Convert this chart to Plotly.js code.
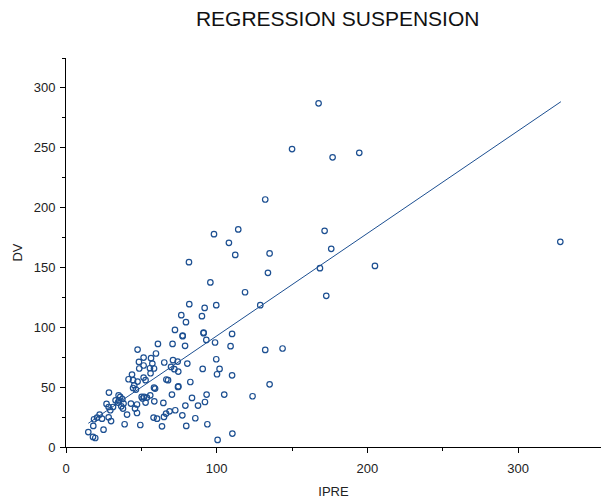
<!DOCTYPE html>
<html>
<head>
<meta charset="utf-8">
<script src="https://cdn.plot.ly/plotly-3.0.1.min.js"></script>
<style>
  html, body { margin: 0; padding: 0; background: #ffffff; }
  #chart { width: 603px; height: 499px; }
</style>
</head>
<body>
<div id="chart"></div>
<script>
// Observed concentrations (DV) against individual predictions (IPRE)
const ipre = [
  167.6, 150.0, 176.9, 194.6, 132.2, 98.2, 114.3, 108.1, 112.3, 135.1,
  171.6, 176.0, 168.5, 134.0, 81.6, 95.8, 118.8, 205.0, 172.7, 328.0,
  128.9, 81.8, 99.7, 92.0, 90.2, 79.6, 76.5, 91.3, 91.3, 77.4,
  77.4, 110.2, 93.1, 98.9, 79.0, 109.2, 132.2, 143.7, 80.5, 99.7,
  90.7, 101.9, 100.2, 110.2, 82.5, 135.1, 83.6, 93.3, 105.0, 123.8,
  92.2, 93.8, 110.4, 100.6,
  72.3, 70.7, 61.0, 47.5, 59.7, 51.5, 56.4, 48.4, 51.5, 57.3,
  48.6, 55.7, 58.4, 65.2, 71.0, 74.1, 69.7, 71.9, 74.5, 43.8,
  41.5, 44.5, 47.5, 51.5, 56.1, 52.8, 45.3, 44.5, 46.4, 59.1,
  58.4, 66.6, 67.7, 74.3, 74.6, 28.5, 34.9, 36.0, 37.4, 35.2,
  32.9, 34.5, 38.2, 36.7, 31.2, 26.9, 28.3, 29.4, 37.8, 43.1,
  47.1, 45.8, 50.2, 51.8, 50.8, 53.7, 55.9, 52.8, 58.6, 64.6,
  70.3, 87.6, 79.2, 72.5, 68.7, 66.4, 60.4, 58.1, 65.0, 63.7,
  77.2, 79.8, 85.8, 22.3, 20.6, 18.6, 23.9, 29.9, 28.3, 40.5,
  47.1, 38.9, 49.3, 24.9, 18.1, 14.8, 17.9, 19.4
];
const dv = [
  287.1, 248.9, 242.0, 245.8, 206.8, 177.8, 181.8, 170.6, 160.5, 161.7,
  180.6, 165.6, 149.4, 145.5, 154.4, 137.5, 129.3, 151.3, 126.3, 171.4,
  118.5, 119.3, 118.5, 116.2, 109.3, 104.3, 110.1, 95.1, 95.6, 92.6,
  93.1, 94.5, 89.5, 87.3, 84.5, 84.2, 81.1, 82.3, 69.7, 73.3,
  65.2, 65.2, 60.8, 59.9, 54.3, 52.4, 41.0, 43.8, 43.8, 42.4,
  37.6, 19.0, 11.2, 5.9,
  97.8, 86.1, 86.1, 81.4, 78.1, 74.7, 74.2, 71.1, 68.1, 69.7,
  65.6, 65.8, 65.6, 70.6, 72.5, 71.4, 66.9, 65.0, 63.0, 60.5,
  56.6, 55.8, 54.7, 58.0, 61.6, 55.8, 51.6, 49.3, 48.0, 48.8,
  49.6, 56.4, 55.8, 50.2, 50.6, 45.5, 43.2, 41.8, 40.1, 39.0,
  39.0, 37.1, 36.3, 34.0, 33.4, 36.0, 33.4, 30.7, 32.1, 36.3,
  35.5, 32.1, 41.8, 41.8, 40.5, 41.3, 43.2, 37.1, 38.2, 36.8,
  43.8, 34.6, 34.6, 30.7, 29.8, 27.9, 23.7, 24.6, 25.1, 17.3,
  26.5, 17.6, 24.0, 27.1, 24.6, 23.2, 23.7, 21.7, 24.8, 27.1,
  28.4, 19.0, 18.4, 14.5, 17.6, 12.5, 8.4, 7.5
];

// End points of the fitted regression line
const fitIpre = [14.8, 328.4];
const fitDv = [19.8, 288.5];

// Axis tick positions and labels
const xTicks = [0, 100, 200, 300];
const xTickText = ['0', '100', '200', '300'];
const xMinor = [50, 150, 250];
const yTicks = [0, 50, 100, 150, 200, 250, 300];
const yTickText = ['0', '50', '100', '150', '200', '250', '300'];
const yMinor = [25, 75, 125, 175, 225, 275, 325];

const blue = '#1c4f91';
const font = 'Liberation Sans, Arial, Helvetica, sans-serif';

const traces = [
  {
    type: 'scatter',
    mode: 'markers',
    x: ipre,
    y: dv,
    marker: {
      symbol: 'circle-open',
      size: 5.5,
      color: blue,
      line: { color: blue, width: 1.2 }
    },
    hoverinfo: 'x+y',
    showlegend: false
  },
  {
    type: 'scatter',
    mode: 'lines',
    x: fitIpre,
    y: fitDv,
    line: { color: blue, width: 1 },
    hoverinfo: 'skip',
    showlegend: false
  }
];

const axisCommon = {
  showline: true,
  linecolor: '#000000',
  linewidth: 1,
  showgrid: false,
  zeroline: false,
  ticks: 'outside',
  ticklen: 5,
  tickwidth: 1,
  tickcolor: '#000000',
  tickfont: { family: font, size: 13, color: '#222222' },
  mirror: false
};

const layout = {
  width: 603,
  height: 499,
  paper_bgcolor: '#ffffff',
  plot_bgcolor: '#ffffff',
  margin: { l: 66, r: 2, t: 58, b: 52 },
  title: {
    text: 'REGRESSION SUSPENSION',
    font: { family: font, size: 21, color: '#111111' },
    x: 0.56,
    xanchor: 'center',
    y: 0.962,
    yanchor: 'middle'
  },
  xaxis: Object.assign({}, axisCommon, {
    range: [0, 355],
    tickmode: 'array',
    tickvals: xTicks,
    ticktext: xTickText,
    ticklabelstandoff: 4,
    minor: { tickmode: 'array', tickvals: xMinor, ticks: 'outside', ticklen: 3, tickwidth: 1, tickcolor: '#000000' },
    title: { text: 'IPRE', font: { family: font, size: 13, color: '#222222' }, standoff: 12 }
  }),
  yaxis: Object.assign({}, axisCommon, {
    range: [0, 325],
    tickmode: 'array',
    tickvals: yTicks,
    ticktext: yTickText,
    ticklabelstandoff: 2,
    minor: { tickmode: 'array', tickvals: yMinor, ticks: 'outside', ticklen: 3, tickwidth: 1, tickcolor: '#000000' },
    title: { text: 'DV', font: { family: font, size: 13, color: '#222222' }, standoff: 8 }
  })
};

Plotly.newPlot('chart', traces, layout, { displayModeBar: false, staticPlot: true });
</script>
</body>
</html>
